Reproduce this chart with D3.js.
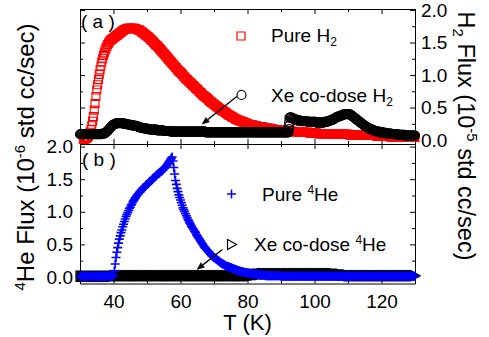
<!DOCTYPE html>
<html>
<head>
<meta charset="utf-8">
<title>H2 and 4He flux vs temperature</title>
<script src="https://cdn.jsdelivr.net/npm/d3@7"></script>
<style>
  body { margin: 0; background: #fff; }
  svg { display: block; font-family: "Liberation Sans", Arial, sans-serif; }
</style>
</head>
<body>
<div id="chart"></div>
<script>
// ---- data: flux vs temperature, one reading every 0.25 K ----
var tStep = 0.25;

// (a) pure H2, open red squares, from 31 K (units 1e-5 std cc/sec)
var pureH2Start = 31;
var pureH2 = [
  0.01,0.01,0.02,0.02,0.03,0.04,0.06,0.09,0.12,0.16,0.22,0.29,0.36,0.46,0.56,0.67,0.77,0.85,0.93,1.01,
  1.08,1.14,1.20,1.25,1.30,1.34,1.38,1.41,1.44,1.47,1.49,1.51,1.53,1.54,1.55,1.56,1.57,1.58,1.59,1.60,
  1.61,1.62,1.63,1.64,1.65,1.66,1.67,1.68,1.69,1.70,1.70,1.71,1.71,1.72,1.72,1.72,1.72,1.72,1.72,1.72,
  1.72,1.72,1.71,1.71,1.70,1.70,1.69,1.69,1.68,1.67,1.66,1.65,1.64,1.63,1.62,1.61,1.60,1.59,1.58,1.57,
  1.55,1.54,1.53,1.52,1.50,1.49,1.47,1.46,1.45,1.44,1.42,1.41,1.39,1.38,1.36,1.35,1.33,1.32,1.30,1.29,
  1.27,1.26,1.24,1.23,1.21,1.20,1.18,1.17,1.15,1.14,1.12,1.11,1.09,1.08,1.06,1.05,1.04,1.03,1.01,1.00,
  0.98,0.97,0.95,0.94,0.93,0.92,0.90,0.89,0.88,0.87,0.85,0.84,0.83,0.82,0.80,0.79,0.78,0.77,0.75,0.74,
  0.73,0.72,0.70,0.69,0.68,0.67,0.66,0.65,0.64,0.63,0.61,0.60,0.59,0.58,0.57,0.56,0.55,0.54,0.53,0.52,
  0.51,0.50,0.49,0.48,0.47,0.46,0.45,0.45,0.44,0.43,0.42,0.41,0.40,0.39,0.38,0.38,0.37,0.36,0.35,0.35,
  0.34,0.33,0.32,0.32,0.31,0.31,0.30,0.30,0.29,0.29,0.28,0.28,0.27,0.27,0.26,0.26,0.25,0.25,0.24,0.24,
  0.23,0.23,0.23,0.23,0.22,0.22,0.22,0.22,0.21,0.21,0.21,0.21,0.20,0.20,0.20,0.20,0.19,0.19,0.19,0.19,
  0.18,0.18,0.18,0.18,0.17,0.17,0.17,0.17,0.16,0.16,0.16,0.16,0.16,0.16,0.15,0.15,0.15,0.15,0.15,0.15,
  0.15,0.15,0.14,0.14,0.14,0.14,0.14,0.14,0.14,0.14,0.13,0.13,0.13,0.13,0.13,0.13,0.13,0.13,0.13,0.13,
  0.12,0.12,0.12,0.12,0.12,0.12,0.12,0.12,0.12,0.12,0.11,0.11,0.11,0.11,0.11,0.11,0.11,0.11,0.11,0.11,
  0.10,0.10,0.10,0.10,0.10,0.10,0.10,0.10,0.10,0.10,0.10,0.10,0.10,0.10,0.10,0.10,0.10,0.10,0.09,0.09,
  0.09,0.09,0.09,0.09,0.09,0.09,0.09,0.09,0.09,0.09,0.09,0.09,0.09,0.09,0.09,0.09,0.09,0.09,0.08,0.08,
  0.08,0.08,0.08,0.08,0.08,0.08,0.08,0.08,0.08,0.08,0.08,0.08,0.08,0.08,0.07,0.07,0.07,0.07,0.07,0.07,
  0.07,0.07,0.07,0.07,0.07,0.07,0.07,0.07,0.07,0.07,0.06,0.06,0.06,0.06,0.06,0.06,0.06,0.06,0.06,0.06,
  0.06,0.06,0.06,0.06,0.06,0.06,0.05,0.05,0.05,0.05,0.05,0.05,0.05,0.05,0.05,0.05,0.05,0.05,0.05,0.05,
  0.05,0.05,0.04,0.04,0.04,0.04,0.04,0.04,0.04,0.04,0.04,0.04,0.04,0.04,0.04,0.04,0.04
];

// (a) Xe co-dose H2, open black circles, from 30 K
var xeH2Start = 30;
var xeH2 = [
  0.09,0.09,0.09,0.09,0.09,0.09,0.09,0.09,0.09,0.09,0.09,0.09,0.09,0.09,0.09,0.09,0.09,0.09,0.09,0.09,
  0.09,0.09,0.09,0.09,0.09,0.09,0.09,0.10,0.10,0.10,0.11,0.12,0.13,0.14,0.16,0.17,0.19,0.20,0.22,0.23,
  0.24,0.24,0.25,0.25,0.26,0.26,0.26,0.26,0.26,0.26,0.26,0.26,0.25,0.25,0.25,0.25,0.24,0.24,0.24,0.24,
  0.23,0.23,0.23,0.23,0.22,0.22,0.22,0.22,0.21,0.21,0.20,0.20,0.19,0.19,0.19,0.19,0.18,0.18,0.18,0.18,
  0.17,0.17,0.17,0.17,0.16,0.16,0.16,0.16,0.16,0.16,0.16,0.16,0.15,0.15,0.15,0.15,0.15,0.15,0.15,0.15,
  0.14,0.14,0.14,0.14,0.14,0.14,0.14,0.14,0.13,0.13,0.13,0.13,0.13,0.13,0.13,0.13,0.13,0.13,0.13,0.13,
  0.13,0.13,0.13,0.13,0.13,0.13,0.13,0.13,0.13,0.13,0.13,0.13,0.13,0.13,0.13,0.13,0.13,0.13,0.13,0.13,
  0.13,0.13,0.13,0.13,0.13,0.13,0.13,0.13,0.13,0.13,0.12,0.12,0.12,0.12,0.12,0.12,0.12,0.12,0.12,0.12,
  0.12,0.12,0.12,0.12,0.12,0.12,0.12,0.12,0.12,0.12,0.12,0.12,0.12,0.12,0.12,0.12,0.12,0.12,0.12,0.12,
  0.12,0.12,0.12,0.12,0.12,0.12,0.12,0.12,0.12,0.12,0.12,0.12,0.12,0.12,0.12,0.12,0.12,0.12,0.12,0.12,
  0.12,0.12,0.12,0.12,0.12,0.12,0.12,0.12,0.12,0.12,0.12,0.12,0.12,0.12,0.12,0.12,0.12,0.12,0.12,0.12,
  0.12,0.12,0.12,0.12,0.12,0.12,0.12,0.12,0.12,0.12,0.12,0.12,0.12,0.12,0.12,0.12,0.12,0.12,0.12,0.12,
  0.12,0.12,0.12,0.12,0.12,0.12,0.12,0.12,0.12,0.12,0.34,0.35,0.35,0.34,0.33,0.33,0.32,0.32,0.31,0.31,
  0.30,0.30,0.30,0.30,0.29,0.29,0.29,0.29,0.29,0.29,0.29,0.29,0.28,0.28,0.28,0.28,0.28,0.28,0.28,0.28,
  0.28,0.28,0.27,0.27,0.27,0.27,0.27,0.27,0.27,0.27,0.27,0.27,0.28,0.28,0.28,0.28,0.29,0.29,0.30,0.30,
  0.31,0.31,0.32,0.32,0.33,0.34,0.35,0.35,0.36,0.36,0.37,0.37,0.38,0.38,0.39,0.39,0.40,0.40,0.40,0.40,
  0.40,0.40,0.39,0.39,0.38,0.37,0.36,0.35,0.34,0.33,0.32,0.31,0.30,0.29,0.28,0.27,0.26,0.25,0.24,0.23,
  0.22,0.21,0.20,0.20,0.19,0.18,0.17,0.17,0.16,0.16,0.15,0.15,0.14,0.14,0.13,0.13,0.13,0.13,0.12,0.12,
  0.12,0.12,0.11,0.11,0.11,0.11,0.10,0.10,0.10,0.10,0.10,0.10,0.09,0.09,0.09,0.09,0.09,0.09,0.09,0.09,
  0.08,0.08,0.08,0.08,0.08,0.08,0.08,0.08,0.07,0.07,0.07,0.07,0.07,0.07,0.07,0.07,0.07,0.07,0.07,0.07,
  0.07
];
// readings logged while the step near 92 K was climbing
var xeH2StepT = [92.4, 92.4, 92.4];
var xeH2StepFlux = [0.17, 0.22, 0.27];

// (b) pure 4He, blue crosses, from 30 K (units 1e-6 std cc/sec)
var pureHeStart = 30;
var pureHe = [
  0.01,0.01,0.01,0.01,0.01,0.01,0.01,0.01,0.01,0.01,0.01,0.01,0.01,0.01,0.01,0.01,0.01,0.01,0.01,0.01,
  0.01,0.01,0.01,0.01,0.01,0.01,0.01,0.01,0.01,0.01,0.01,0.01,0.01,0.01,0.01,0.01,0.01,0.01,0.01,0.01,
  0.03,0.09,0.20,0.30,0.38,0.45,0.52,0.58,0.63,0.68,0.72,0.77,0.81,0.85,0.89,0.93,0.96,0.99,1.02,1.05,
  1.07,1.10,1.12,1.15,1.17,1.19,1.21,1.23,1.25,1.27,1.28,1.30,1.31,1.33,1.34,1.36,1.37,1.38,1.39,1.41,
  1.42,1.43,1.44,1.46,1.47,1.48,1.49,1.51,1.52,1.53,1.54,1.56,1.57,1.58,1.59,1.60,1.61,1.62,1.63,1.64,
  1.66,1.67,1.69,1.70,1.72,1.74,1.76,1.78,1.80,1.82,1.84,1.78,1.68,1.58,1.48,1.42,1.36,1.31,1.26,1.22,
  1.18,1.14,1.10,1.06,1.03,1.00,0.97,0.94,0.91,0.88,0.86,0.83,0.81,0.78,0.76,0.74,0.72,0.70,0.68,0.65,
  0.63,0.61,0.59,0.57,0.55,0.53,0.51,0.49,0.47,0.45,0.44,0.42,0.41,0.39,0.38,0.36,0.35,0.33,0.32,0.31,
  0.30,0.29,0.28,0.27,0.26,0.25,0.24,0.23,0.22,0.21,0.20,0.20,0.19,0.18,0.17,0.17,0.16,0.16,0.15,0.15,
  0.14,0.14,0.13,0.13,0.12,0.12,0.11,0.11,0.10,0.10,0.09,0.09,0.08,0.08,0.08,0.08,0.07,0.07,0.07,0.07,
  0.06,0.06,0.06,0.06,0.05,0.05,0.05,0.05,0.04,0.04,0.04,0.04,0.04,0.04,0.03,0.03,0.03,0.03,0.03,0.03,
  0.03,0.03,0.02,0.02,0.02,0.02,0.02,0.02,0.02,0.02,0.02,0.02,0.02,0.02,0.02,0.02,0.02,0.02,0.02,0.02,
  0.01,0.01,0.01,0.01,0.01,0.01,0.01,0.01,0.01,0.01,0.01,0.01,0.01,0.01,0.01,0.01,0.01,0.01,0.01,0.01,
  0.01,0.01,0.01,0.01,0.01,0.01,0.01,0.01,0.01,0.01,0.01,0.01,0.01,0.01,0.01,0.01,0.01,0.01,0.01,0.01,
  0.01,0.01,0.01,0.01,0.01,0.01,0.01,0.01,0.01,0.01,0.01,0.01,0.01,0.01,0.01,0.01,0.01,0.01,0.01,0.01,
  0.01,0.01,0.01,0.01,0.01,0.01,0.01,0.01,0.01,0.01,0.01,0.01,0.01,0.01,0.01,0.01,0.01,0.01,0.01,0.01,
  0.01,0.01,0.01,0.01,0.01,0.01,0.01,0.01,0.01,0.01,0.01,0.01,0.01,0.01,0.01,0.01,0.01,0.01,0.01,0.01,
  0.01,0.01,0.01,0.01,0.01,0.01,0.01,0.01,0.01,0.01,0.01,0.01,0.01,0.01,0.01,0.01,0.01,0.01,0.01,0.01,
  0.01,0.01,0.01,0.01,0.01,0.01,0.01,0.01,0.01,0.01,0.01,0.01,0.01,0.01,0.01,0.01,0.01,0.01,0.01,0.01,
  0.01,0.01,0.01,0.01,0.01,0.01,0.01,0.01,0.01,0.01,0.01,0.01,0.01,0.01,0.01,0.01,0.01,0.01,0.01,0.01,
  0.01
];

// (b) Xe co-dose 4He, open black triangles, from 30 K
var xeHeStart = 30;
var xeHe = [
  0.01,0.01,0.01,0.01,0.01,0.01,0.01,0.01,0.01,0.01,0.01,0.01,0.01,0.01,0.01,0.01,0.01,0.01,0.01,0.01,
  0.01,0.01,0.01,0.01,0.01,0.01,0.01,0.01,0.01,0.01,0.01,0.01,0.01,0.01,0.01,0.01,0.01,0.01,0.01,0.01,
  0.02,0.02,0.02,0.02,0.02,0.02,0.02,0.02,0.02,0.02,0.02,0.02,0.02,0.02,0.02,0.02,0.02,0.02,0.02,0.02,
  0.02,0.02,0.02,0.02,0.02,0.02,0.02,0.02,0.02,0.02,0.02,0.02,0.02,0.02,0.02,0.02,0.02,0.02,0.02,0.02,
  0.02,0.02,0.02,0.02,0.02,0.02,0.02,0.02,0.02,0.02,0.02,0.02,0.02,0.02,0.02,0.02,0.02,0.02,0.02,0.02,
  0.02,0.02,0.02,0.02,0.02,0.02,0.02,0.02,0.02,0.02,0.02,0.02,0.02,0.02,0.02,0.02,0.02,0.02,0.02,0.02,
  0.02,0.02,0.02,0.02,0.02,0.02,0.02,0.02,0.02,0.02,0.02,0.02,0.02,0.02,0.02,0.02,0.02,0.02,0.02,0.02,
  0.02,0.02,0.02,0.02,0.02,0.02,0.02,0.02,0.02,0.02,0.02,0.02,0.02,0.02,0.02,0.02,0.02,0.02,0.02,0.02,
  0.02,0.02,0.02,0.02,0.02,0.02,0.02,0.02,0.02,0.02,0.02,0.02,0.02,0.02,0.02,0.02,0.02,0.02,0.02,0.02,
  0.02,0.02,0.02,0.02,0.02,0.02,0.02,0.02,0.02,0.02,0.02,0.02,0.02,0.02,0.02,0.02,0.02,0.02,0.02,0.02,
  0.02,0.02,0.02,0.02,0.02,0.03,0.03,0.03,0.03,0.03,0.04,0.04,0.04,0.04,0.04,0.04,0.05,0.05,0.05,0.05,
  0.05,0.05,0.05,0.05,0.05,0.05,0.05,0.05,0.05,0.05,0.05,0.05,0.05,0.05,0.05,0.05,0.05,0.05,0.05,0.05,
  0.05,0.05,0.05,0.05,0.05,0.05,0.05,0.05,0.05,0.05,0.05,0.05,0.05,0.05,0.05,0.05,0.05,0.05,0.05,0.05,
  0.05,0.05,0.05,0.05,0.05,0.05,0.05,0.05,0.05,0.05,0.05,0.05,0.05,0.05,0.05,0.05,0.05,0.05,0.05,0.05,
  0.05,0.05,0.05,0.05,0.05,0.05,0.05,0.05,0.05,0.05,0.05,0.05,0.05,0.05,0.05,0.05,0.05,0.05,0.05,0.05,
  0.05,0.05,0.05,0.05,0.04,0.04,0.04,0.04,0.04,0.04,0.04,0.04,0.03,0.03,0.03,0.03,0.03,0.03,0.03,0.03,
  0.02,0.02,0.02,0.02,0.02,0.02,0.02,0.02,0.02,0.02,0.02,0.02,0.02,0.02,0.02,0.02,0.02,0.02,0.02,0.02,
  0.02,0.02,0.02,0.02,0.02,0.02,0.02,0.02,0.02,0.02,0.02,0.02,0.02,0.02,0.02,0.02,0.02,0.02,0.02,0.02,
  0.02,0.02,0.02,0.02,0.02,0.02,0.02,0.02,0.02,0.02,0.02,0.02,0.02,0.02,0.02,0.02,0.02,0.02,0.02,0.02,
  0.02,0.02,0.02,0.02,0.02,0.02,0.02,0.02,0.02,0.02,0.02,0.02,0.02,0.02,0.02,0.02,0.02,0.02,0.02,0.02,
  0.02
];

// axis ticks
var tMajor = [40, 60, 80, 100, 120];
var tMinor = [30, 50, 70, 90, 110, 130];
var fluxMajor = [0, 0.5, 1.0, 1.5, 2.0];
var fluxMinor = [0.25, 0.75, 1.25, 1.75];

// arrows pointing at the co-dose curves: [T, flux] from -> to
var arrowA = [[76.8, 0.67], [66.3, 0.24]];
var arrowB = [[72.5, 0.42], [64.8, 0.11]];

function toPoints(start, vals) {
  return vals.map(function (v, i) { return [start + i * tStep, v]; });
}

var width = 489, height = 337;
var svg = d3.select("#chart").append("svg")
  .attr("width", width).attr("height", height);

var x = d3.scaleLinear().domain([30, 130]).range([80, 415]);
var yA = d3.scaleLinear().domain([-0.06, 2.015]).range([144, 9]);
var yB = d3.scaleLinear().domain([-0.1, 2.04]).range([283.5, 144]);

var font = "19px";
var fmt = d3.format(".1f");

function styleAxis(g) {
  g.selectAll("line").attr("stroke", "#000").attr("stroke-width", 1);
  g.selectAll("path").attr("stroke", "#000").attr("stroke-width", 1);
  g.selectAll("text").attr("fill", "#000").style("font-size", font)
    .style("font-family", '"Liberation Sans", Arial, sans-serif');
}

function ticksOnly(axisGen, tx, ty, keepDomain) {
  var g = svg.append("g").attr("transform", "translate(" + tx + "," + ty + ")").call(axisGen);
  if (!keepDomain) g.select(".domain").remove();
  styleAxis(g);
  return g;
}

function drawFrame(y, top, bottom, labelLeft, labelRight, labelBottom) {
  // major + minor ticks on all four sides, pointing inward
  ticksOnly(d3.axisLeft(y).tickValues(fluxMajor).tickSizeInner(-5).tickSizeOuter(0)
    .tickPadding(7).tickFormat(labelLeft ? fmt : ""), 80, 0, true);
  ticksOnly(d3.axisLeft(y).tickValues(fluxMinor).tickSize(-3).tickFormat(""), 80, 0);
  ticksOnly(d3.axisRight(y).tickValues(fluxMajor).tickSizeInner(-5).tickSizeOuter(0)
    .tickPadding(6).tickFormat(labelRight ? fmt : ""), 415, 0, true);
  ticksOnly(d3.axisRight(y).tickValues(fluxMinor).tickSize(-3).tickFormat(""), 415, 0);
  ticksOnly(d3.axisTop(x).tickValues(tMajor).tickSizeInner(-5).tickSizeOuter(0).tickFormat(""), 0, top, true);
  ticksOnly(d3.axisTop(x).tickValues(tMinor).tickSize(-3).tickFormat(""), 0, top);
  ticksOnly(d3.axisBottom(x).tickValues(tMajor).tickSizeInner(-5).tickSizeOuter(0)
    .tickPadding(11).tickFormat(labelBottom ? d3.format("d") : ""), 0, bottom, true);
  ticksOnly(d3.axisBottom(x).tickValues(tMinor).tickSize(-3).tickFormat(""), 0, bottom);
}

drawFrame(yA, 9, 144, false, true, false);
drawFrame(yB, 144, 283.5, true, false, true);

// marker shapes
var squarePath = "M-4,-4H4V4H-4Z";
var circlePath = d3.symbol().type(d3.symbolCircle).size(Math.PI * 4.5 * 4.5)();
var crossPath = "M-4.5,0H4.5M0,-4.5V4.5";
var triPath = "M-4,-5L5,0L-4,5Z";

function drawMarkers(pts, y, path, color, sw) {
  svg.append("g").selectAll("path").data(pts).enter().append("path")
    .attr("d", path)
    .attr("transform", function (d) { return "translate(" + x(d[0]) + "," + y(d[1]) + ")"; })
    .attr("fill", "none").attr("stroke", color).attr("stroke-width", sw);
}

var red = "#ff0000", blue = "#0000ff";

drawMarkers(toPoints(pureH2Start, pureH2), yA, squarePath, red, 1.1);
drawMarkers(toPoints(xeH2Start, xeH2), yA, circlePath, "#000", 1.2);
drawMarkers(d3.zip(xeH2StepT, xeH2StepFlux), yA, circlePath, "#000", 1.1);
drawMarkers(toPoints(xeHeStart, xeHe), yB, triPath, "#000", 1.2);
drawMarkers(toPoints(pureHeStart, pureHe), yB, crossPath, blue, 1.6);

// arrows
function arrow(a, y) {
  var x1 = x(a[0][0]), y1 = y(a[0][1]), x2 = x(a[1][0]), y2 = y(a[1][1]);
  var ang = Math.atan2(y2 - y1, x2 - x1), len = 8, hw = 3.2;
  var bx = x2 - len * Math.cos(ang), by = y2 - len * Math.sin(ang);
  svg.append("line").attr("x1", x1).attr("y1", y1).attr("x2", bx).attr("y2", by)
    .attr("stroke", "#000").attr("stroke-width", 1.3);
  svg.append("path")
    .attr("d", "M" + x2 + "," + y2 +
      "L" + (bx + hw * Math.sin(ang)) + "," + (by - hw * Math.cos(ang)) +
      "L" + (bx - hw * Math.sin(ang)) + "," + (by + hw * Math.cos(ang)) + "Z")
    .attr("fill", "#000");
}
arrow(arrowA, yA);
arrow(arrowB, yB);

// legends
function legendText(tx, ty, parts) {
  var t = svg.append("text").attr("x", tx).attr("y", ty).style("font-size", font).attr("fill", "#000");
  parts.forEach(function (p) {
    var s = t.append("tspan").text(p[0]);
    if (p[1]) s.attr("dy", p[1]);
    if (p[2]) s.style("font-size", p[2]);
  });
}
svg.append("path").attr("d", squarePath).attr("transform", "translate(241,36)")
  .attr("fill", "none").attr("stroke", red).attr("stroke-width", 1.2);
legendText(271, 42, [["Pure H"], ["2", 4, "12px"]]);
svg.append("path").attr("d", circlePath).attr("transform", "translate(241.5,95)")
  .attr("fill", "none").attr("stroke", "#000").attr("stroke-width", 1.2);
legendText(271, 102, [["Xe co-dose H"], ["2", 4, "12px"]]);
svg.append("path").attr("d", crossPath).attr("transform", "translate(231.5,194)")
  .attr("fill", "none").attr("stroke", blue).attr("stroke-width", 1.5);
legendText(262, 201, [["Pure "], ["4", -7, "12px"], ["He", 7]]);
svg.append("path").attr("d", triPath).attr("transform", "translate(231.5,244.5)")
  .attr("fill", "none").attr("stroke", "#000").attr("stroke-width", 1.2);
legendText(254, 251, [["Xe co-dose "], ["4", -7, "12px"], ["He", 7]]);

// panel tags
svg.append("text").attr("x", 81).attr("y", 28).style("font-size", font).text("( a )");
svg.append("text").attr("x", 82).attr("y", 166).style("font-size", font).text("( b )");

// axis titles
var lt = svg.append("text").attr("transform", "translate(34,157) rotate(-90)")
  .attr("text-anchor", "middle").style("font-size", "24px");
lt.append("tspan").attr("dy", -9).style("font-size", "15px").text("4");
lt.append("tspan").attr("dy", 9).text("He Flux (10");
lt.append("tspan").attr("dy", -9).style("font-size", "15px").text("-6");
lt.append("tspan").attr("dy", 9).text(" std cc/sec)");

var rt = svg.append("text").attr("transform", "translate(458,136) rotate(90)")
  .attr("text-anchor", "middle").style("font-size", "23.5px");
rt.append("tspan").text("H");
rt.append("tspan").attr("dy", 5).style("font-size", "15px").text("2");
rt.append("tspan").attr("dy", -5).text(" Flux (10");
rt.append("tspan").attr("dy", -9).style("font-size", "15px").text("-5");
rt.append("tspan").attr("dy", 9).text(" std cc/sec)");

svg.append("text").attr("x", x(80)).attr("y", 330).attr("text-anchor", "middle")
  .style("font-size", "22px").text("T (K)");
</script>
</body>
</html>
